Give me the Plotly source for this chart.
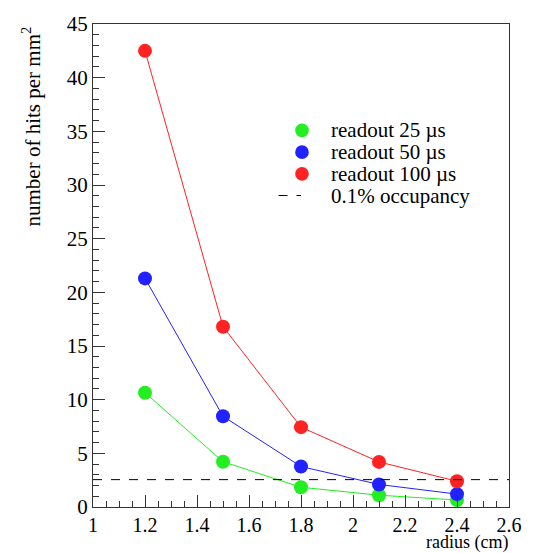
import plotly.graph_objects as go

radius = [1.2, 1.5, 1.8, 2.1, 2.4]
hits_25 = [10.65, 4.22, 1.84, 1.1, 0.65]
hits_50 = [21.3, 8.45, 3.77, 2.1, 1.2]
hits_100 = [42.5, 16.8, 7.44, 4.2, 2.4]
occupancy_level = 2.55
x_range = [1.0, 2.6]
y_range = [0, 45]

series_names = ["readout 25 µs", "readout 50 µs", "readout 100 µs"]
series_values = [hits_25, hits_50, hits_100]
series_colors = ["#22ee22", "#2222ff", "#ff2222"]
occupancy_name = "0.1% occupancy"

FONT = "Liberation Serif, Times New Roman, serif"
W, H = 534, 553
ML, MR, MT, MB = 93, 15, 17, 46
PW, PH = W - ML - MR, H - MT - MB


def px_x(p):
    return (p - ML) / PW


def px_y(p):
    return (H - MB - p) / PH


fig = go.Figure()

for name, vals, col in zip(series_names, series_values, series_colors):
    fig.add_trace(go.Scatter(x=radius, y=vals, mode="lines+markers",
                             line=dict(color=col, width=1),
                             marker=dict(color=col, size=14),
                             showlegend=False, name=name))

fig.add_trace(go.Scatter(x=x_range, y=[occupancy_level, occupancy_level], mode="lines",
                         line=dict(color="black", width=1, dash="dash"),
                         name=occupancy_name, showlegend=False))

fig.update_layout(
    width=W, height=H,
    margin=dict(l=ML, r=MR, t=MT, b=MB),
    paper_bgcolor="white", plot_bgcolor="white",
    font=dict(family=FONT, size=21, color="black"),
    showlegend=False,
    xaxis=dict(range=x_range, dtick=0.2, tick0=1.0, showgrid=False, zeroline=False,
               showline=True, linecolor="#333", linewidth=1, mirror=True,
               ticks="inside", ticklen=12, tickcolor="#333",
               minor=dict(dtick=0.05, ticks="inside", ticklen=6, tickcolor="#333", showgrid=False),
               tickfont=dict(family=FONT, size=20)),
    yaxis=dict(range=y_range, dtick=5, showgrid=False, zeroline=False,
               showline=True, linecolor="#333", linewidth=1, mirror=True,
               ticks="inside", ticklen=12, tickcolor="#333",
               minor=dict(dtick=1, ticks="inside", ticklen=6, tickcolor="#333", showgrid=False),
               tickfont=dict(family=FONT, size=21)),
)

# manual legend (ROOT-style, compact rows)
row_y = [125, 147, 169, 191]
marker_x = 307
text_x = 336
r = 7
LEG_FONT = 21
for i, (name, col) in enumerate(zip(series_names, series_colors)):
    yy = row_y[i]
    fig.add_shape(type="circle", xref="paper", yref="paper",
                  x0=px_x(marker_x - r), x1=px_x(marker_x + r),
                  y0=px_y(yy + r), y1=px_y(yy - r),
                  fillcolor=col, line=dict(color=col, width=0))
    fig.add_annotation(text=name, xref="paper", yref="paper", x=px_x(text_x), y=px_y(yy),
                       xanchor="left", yanchor="middle", showarrow=False, borderpad=0,
                       font=dict(family=FONT, size=LEG_FONT))
fig.add_shape(type="line", xref="paper", yref="paper",
              x0=px_x(283), x1=px_x(306), y0=px_y(row_y[3]), y1=px_y(row_y[3]),
              line=dict(color="black", width=1, dash="dash"))
fig.add_annotation(text=occupancy_name, xref="paper", yref="paper", x=px_x(text_x), y=px_y(row_y[3]),
                   xanchor="left", yanchor="middle", showarrow=False, borderpad=0,
                   font=dict(family=FONT, size=LEG_FONT))

fig.add_annotation(text="radius (cm)", xref="paper", yref="paper", x=1.0, y=px_y(543),
                   xanchor="right", yanchor="middle", showarrow=False, borderpad=0,
                   font=dict(family=FONT, size=18))
fig.add_annotation(text="number of hits per mm<sup>2</sup>", xref="paper", yref="paper",
                   x=px_x(30), y=px_y(17), xanchor="center", yanchor="top", textangle=-90,
                   showarrow=False, font=dict(family=FONT, size=21))

fig.write_html("out.html")
